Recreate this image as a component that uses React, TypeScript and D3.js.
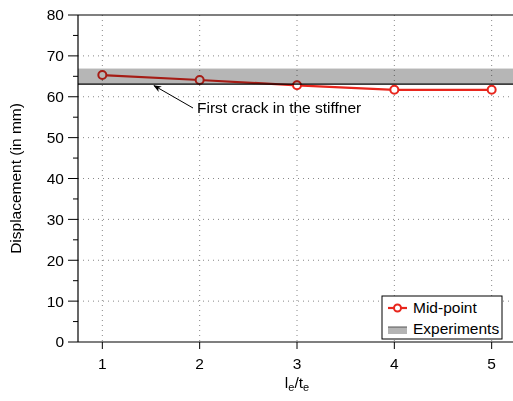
import React from 'react';
import * as d3 from 'd3';

const ratios = [1, 2, 3, 4, 5];
const midPoint = [65.3, 64.1, 62.8, 61.7, 61.7];
const yTicks = [0, 10, 20, 30, 40, 50, 60, 70, 80];
const yMinor = [5, 15, 25, 35, 45, 55, 65, 75];
const expBand = [63.1, 66.9];
const crackLevel = 63.1;

const font = 'Liberation Sans, Arial, Helvetica, sans-serif';
const fs = 15.5;

export default function App() {
  const left = 78, top = 15, bottom = 342, right = 516;
  const x = d3.scaleLinear().domain([0.75, 5.25]).range([left, right]);
  const y = d3.scaleLinear().domain([0, 80]).range([bottom, top]);
  const line = d3.line<number>()
    .x((d, i) => x(ratios[i]))
    .y(d => y(d));
  const red = '#e8261d';

  return (
    <svg width={513} height={401} style={{ position: 'absolute', left: 0, top: 0 }}
      fontFamily={font}>
      <rect width={513} height={401} fill="#fff" />
      {/* grid */}
      {yTicks.filter(t => t > 0 && t < 80).map(t => (
        <line key={'gy' + t} x1={left} x2={right} y1={y(t)} y2={y(t)}
          stroke="#888" strokeWidth={1} strokeDasharray="1,4" />
      ))}
      {ratios.map(t => (
        <line key={'gx' + t} x1={x(t)} x2={x(t)} y1={top} y2={bottom}
          stroke="#888" strokeWidth={1} strokeDasharray="1,4" />
      ))}
      {/* data */}
      <path d={line(midPoint) || ''} fill="none" stroke={red} strokeWidth={2.2} />
      {midPoint.map((v, i) => (
        <circle key={i} cx={x(ratios[i])} cy={y(v)} r={4} fill="#fff" stroke={red} strokeWidth={2} />
      ))}
      {/* experiments band */}
      <rect x={left} width={right - left} y={y(expBand[1])} height={y(expBand[0]) - y(expBand[1])}
        fill="#b6b6b6" style={{ mixBlendMode: 'multiply' }} />
      <line x1={left} x2={right} y1={y(crackLevel)} y2={y(crackLevel)} stroke="#000" strokeWidth={1.2} />
      {/* annotation */}
      <defs>
        <marker id="ah" viewBox="0 0 10 10" refX={9} refY={5} markerWidth={8} markerHeight={8} orient="auto">
          <path d="M0,1 L10,5 L0,9 L3,5 Z" fill="#000" />
        </marker>
      </defs>
      <line x1={193} y1={108} x2={154} y2={y(crackLevel) + 1.5} stroke="#000" strokeWidth={1}
        markerEnd="url(#ah)" />
      <text x={197} y={113} fontSize={fs}>First crack in the stiffner</text>
      {/* axes */}
      <line x1={left} x2={right} y1={top} y2={top} stroke="#000" strokeWidth={1.2} />
      <line x1={left} x2={left} y1={top} y2={bottom} stroke="#000" strokeWidth={1.2} />
      <line x1={left} x2={right} y1={bottom} y2={bottom} stroke="#000" strokeWidth={1.2} />
      {yTicks.map(t => (
        <g key={'yt' + t}>
          <line x1={left - 10} x2={left} y1={y(t)} y2={y(t)} stroke="#000" strokeWidth={1} />
          <text x={left - 14} y={y(t)} dy="0.35em" textAnchor="end" fontSize={fs}>{t}</text>
        </g>
      ))}
      {yMinor.map(t => (
        <line key={'ym' + t} x1={left - 5} x2={left} y1={y(t)} y2={y(t)} stroke="#000" strokeWidth={1} />
      ))}
      {ratios.map(t => (
        <g key={'xt' + t}>
          <line x1={x(t)} x2={x(t)} y1={bottom} y2={bottom + 7} stroke="#000" strokeWidth={1} />
          <text x={x(t)} y={bottom + 27} textAnchor="middle" fontSize={fs}>{t}</text>
        </g>
      ))}
      <text x={297} y={388} textAnchor="middle" fontSize={fs}>
        l<tspan fontSize={11} dy={3}>e</tspan><tspan dy={-3}>/t</tspan><tspan fontSize={11} dy={3}>e</tspan>
      </text>
      <text transform={`translate(21,${(top + bottom) / 2}) rotate(-90)`} textAnchor="middle" fontSize={fs}>
        Displacement (in mm)
      </text>
      {/* legend */}
      <rect x={382} y={296} width={120} height={43} fill="#fff" stroke="#000" strokeWidth={1} />
      <line x1={388} x2={407} y1={308} y2={308} stroke={red} strokeWidth={2.2} />
      <circle cx={397.5} cy={308} r={3.5} fill="#fff" stroke={red} strokeWidth={2} />
      <text x={413} y={308} dy="0.35em" fontSize={fs}>Mid-point</text>
      <rect x={388} y={327} width={19} height={7} fill="#b4b4b4" />
      <line x1={388} x2={407} y1={327} y2={327} stroke="#555" strokeWidth={1} />
      <text x={413} y={329} dy="0.35em" fontSize={fs}>Experiments</text>
    </svg>
  );
}
